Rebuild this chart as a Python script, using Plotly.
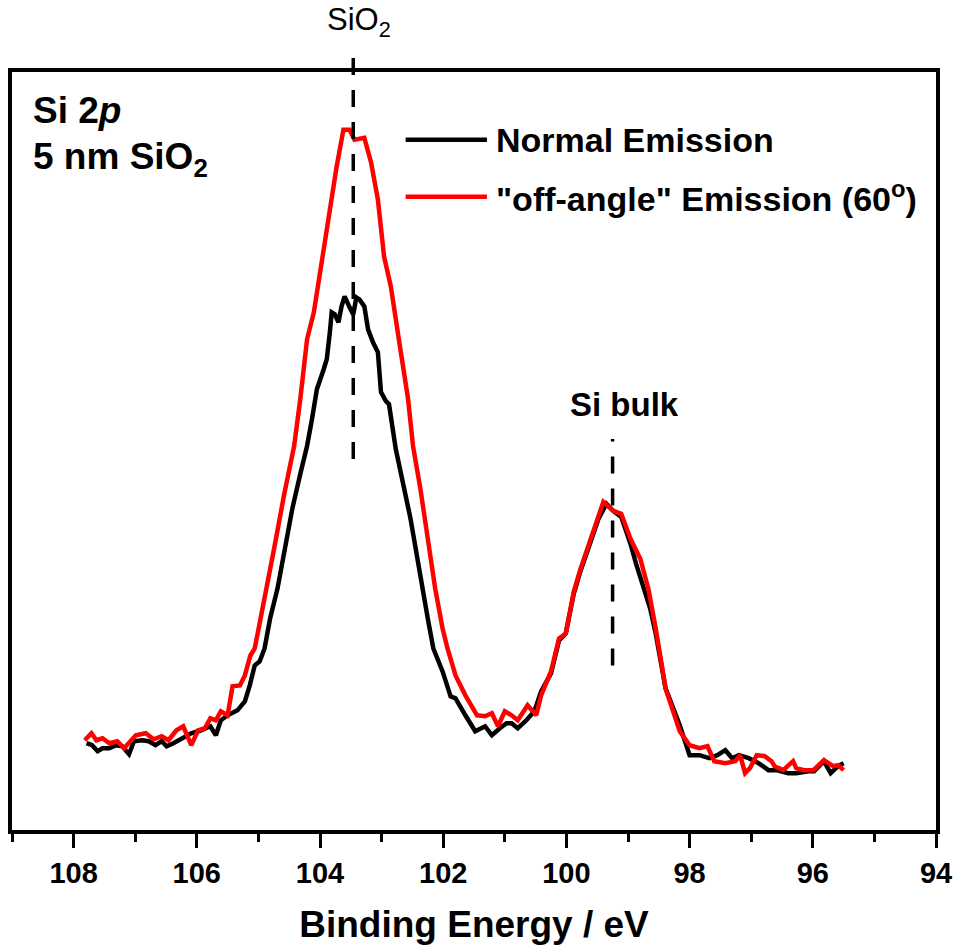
import plotly.graph_objects as go

# ---------------- data ----------------
series_names = ["Normal Emission", "\"off-angle\" Emission (60<sup>o</sup>)"]
series_colors = ["#000000", "#ff0000"]

normal_energy = [
    107.79, 107.70, 107.61, 107.53, 107.42, 107.31, 107.21, 107.10, 107.02, 106.89,
    106.78, 106.67, 106.57, 106.49, 106.38, 106.25, 106.09, 105.93, 105.78, 105.69,
    105.61, 105.50, 105.34, 105.22, 105.14, 105.06, 104.98, 104.90, 104.81, 104.69,
    104.57, 104.45, 104.32, 104.21, 104.13, 104.05, 103.94, 103.89, 103.84, 103.81,
    103.76, 103.70, 103.65, 103.60, 103.52, 103.46, 103.41, 103.36, 103.28, 103.22,
    103.14, 103.06, 103.01, 102.93, 102.88, 102.82, 102.77, 102.53, 102.37, 102.25,
    102.16, 102.01, 101.88, 101.80, 101.64, 101.48, 101.32, 101.21, 101.08, 100.97,
    100.89, 100.79, 100.65, 100.52, 100.41, 100.25, 100.12, 100.01, 99.88, 99.77,
    99.59, 99.48, 99.35, 99.24, 99.11, 98.96, 98.87, 98.75, 98.64, 98.55,
    98.39, 98.16, 98.00, 97.84, 97.68, 97.55, 97.42, 97.31, 97.20, 97.04,
    96.88, 96.72, 96.59, 96.40, 96.27, 96.07, 95.98, 95.82, 95.71, 95.59,
    95.50,
]
normal_intensity = [
    87, 85, 79, 82, 82, 85, 84, 76, 89, 90,
    89, 85, 89, 84, 87, 92, 97, 100, 104, 95,
    110, 115, 120, 129, 145, 165, 169, 182, 212, 242,
    282, 322, 357, 385, 412, 442, 462, 472, 499, 519,
    517, 509, 525, 535, 524, 517, 534, 532, 525, 502,
    489, 479, 439, 430, 427, 399, 382, 312, 252, 212,
    182, 159, 134, 132, 115, 99, 104, 95, 102, 107,
    107, 102, 110, 119, 139, 157, 190, 197, 237, 260,
    292, 312, 327, 320, 314, 287, 267, 242, 222, 197,
    142, 105, 75, 75, 72, 75, 80, 72, 75, 72,
    67, 60, 60, 57, 57, 59, 59, 69, 57, 64,
    67,
]

offangle_energy = [
    107.82, 107.71, 107.63, 107.53, 107.42, 107.29, 107.18, 106.99, 106.83, 106.70,
    106.57, 106.46, 106.33, 106.22, 106.09, 105.98, 105.87, 105.78, 105.69, 105.61,
    105.50, 105.42, 105.30, 105.22, 105.13, 105.06, 104.98, 104.85, 104.73, 104.58,
    104.42, 104.32, 104.21, 104.10, 103.97, 103.84, 103.73, 103.62, 103.52, 103.44,
    103.28, 103.17, 103.06, 102.96, 102.85, 102.72, 102.57, 102.49, 102.37, 102.25,
    102.13, 102.01, 101.93, 101.80, 101.64, 101.45, 101.32, 101.21, 101.11, 101.00,
    100.89, 100.79, 100.63, 100.49, 100.41, 100.25, 100.12, 100.01, 99.88, 99.77,
    99.59, 99.40, 99.24, 99.11, 98.96, 98.80, 98.67, 98.55, 98.39, 98.16,
    98.00, 97.84, 97.71, 97.60, 97.42, 97.26, 97.18, 97.10, 97.02, 96.91,
    96.78, 96.67, 96.62, 96.48, 96.32, 96.27, 96.14, 95.99, 95.82, 95.67,
    95.59, 95.50,
]
offangle_intensity = [
    90, 97, 90, 92, 87, 89, 82, 95, 97, 91,
    94, 90, 100, 104, 85, 100, 102, 112, 110, 119,
    115, 144, 145, 155, 175, 182, 207, 247, 287, 337,
    385, 432, 492, 519, 572, 619, 665, 702, 702, 692,
    694, 669, 632, 575, 545, 492, 432, 385, 342, 292,
    242, 202, 182, 155, 135, 115, 114, 117, 104, 119,
    115, 110, 125, 115, 135, 159, 192, 197, 239, 262,
    295, 329, 320, 317, 292, 272, 242, 202, 142, 99,
    85, 82, 84, 69, 67, 69, 75, 57, 62, 75,
    74, 69, 64, 60, 69, 62, 60, 60, 70, 64,
    65, 60,
]

peak_positions = [103.46, 99.25]          # eV
peak_labels = ["SiO<sub>2</sub>", "Si bulk"]
peak_line_low = [372, 165]                # intensity (a.u.) of dashed marker ends
peak_line_high = [777, 392]

x_range = [109, 94]
y_range = [0, 760]
x_ticks = [108, 106, 104, 102, 100, 98, 96, 94]

# ---------------- figure ----------------
FONT = "Liberation Sans, Arial, sans-serif"

fig = go.Figure()
for xs, ys, name, col in [
    (normal_energy, normal_intensity, series_names[0], series_colors[0]),
    (offangle_energy, offangle_intensity, series_names[1], series_colors[1]),
]:
    fig.add_trace(go.Scatter(x=xs, y=ys, mode="lines", name=name,
                             line=dict(color=col, width=4.5), showlegend=False))

# dashed peak markers
for pos, lo, hi in zip(peak_positions, peak_line_low, peak_line_high):
    fig.add_shape(type="line", xref="x", yref="paper",
                  x0=pos, x1=pos, y0=lo / y_range[1], y1=hi / y_range[1],
                  line=dict(color="black", width=3.5, dash="17px,15px"), layer="above")

# peak labels
fig.add_annotation(x=peak_positions[0], xref="x", y=1.066, yref="paper",
                   text=peak_labels[0], showarrow=False, xshift=6,
                   font=dict(family=FONT, size=31, color="black"),
                   xanchor="center", yanchor="middle")
fig.add_annotation(x=peak_positions[1], xref="x", y=(832 - 405) / 760, yref="paper",
                   text=peak_labels[1], showarrow=False, xshift=12,
                   font=dict(family=FONT, size=33, color="black", weight="bold"),
                   xanchor="center", yanchor="middle")

# panel label
fig.add_annotation(x=0.021, xref="paper", y=0.949, yref="paper",
                   text="Si 2<i>p</i>", showarrow=False, xanchor="left", yanchor="middle",
                   font=dict(family=FONT, size=37, color="black", weight="bold"))
fig.add_annotation(x=0.021, xref="paper", y=0.885, yref="paper",
                   text="5 nm SiO<sub>2</sub>", showarrow=False, xanchor="left", yanchor="middle",
                   font=dict(family=FONT, size=37, color="black", weight="bold"))

# custom legend
leg_y = [0.9105, 0.8355]
for name, col, ly in zip(series_names, series_colors, leg_y):
    fig.add_shape(type="line", xref="paper", yref="paper", x0=0.426, x1=0.514,
                  y0=ly, y1=ly, line=dict(color=col, width=4.5))
    fig.add_annotation(x=0.522, xref="paper", y=ly, yref="paper", text=name,
                       showarrow=False, xanchor="left", yanchor="middle",
                       font=dict(family=FONT, size=34, color="black", weight="bold"))

axis_common = dict(showline=True, linewidth=4, linecolor="black", mirror=True,
                   showgrid=False, zeroline=False)

fig.update_xaxes(range=x_range, tickvals=x_ticks, ticks="outside", ticklen=14, tickwidth=3,
                 tickcolor="black",
                 tickfont=dict(family=FONT, size=29, color="black", weight="bold"),
                 minor=dict(dtick=1, tick0=94, ticks="outside", ticklen=8, tickwidth=3,
                            tickcolor="black", showgrid=False),
                 title=dict(text="Binding Energy / eV", standoff=24,
                            font=dict(family=FONT, size=37, color="black", weight="bold")),
                 **axis_common)
fig.update_yaxes(range=y_range, showticklabels=False, ticks="", **axis_common)

fig.update_layout(width=964, height=951, margin=dict(l=12, r=18, t=72, b=119, pad=0),
                  paper_bgcolor="white", plot_bgcolor="white", showlegend=False)

fig.write_html("out.html")
